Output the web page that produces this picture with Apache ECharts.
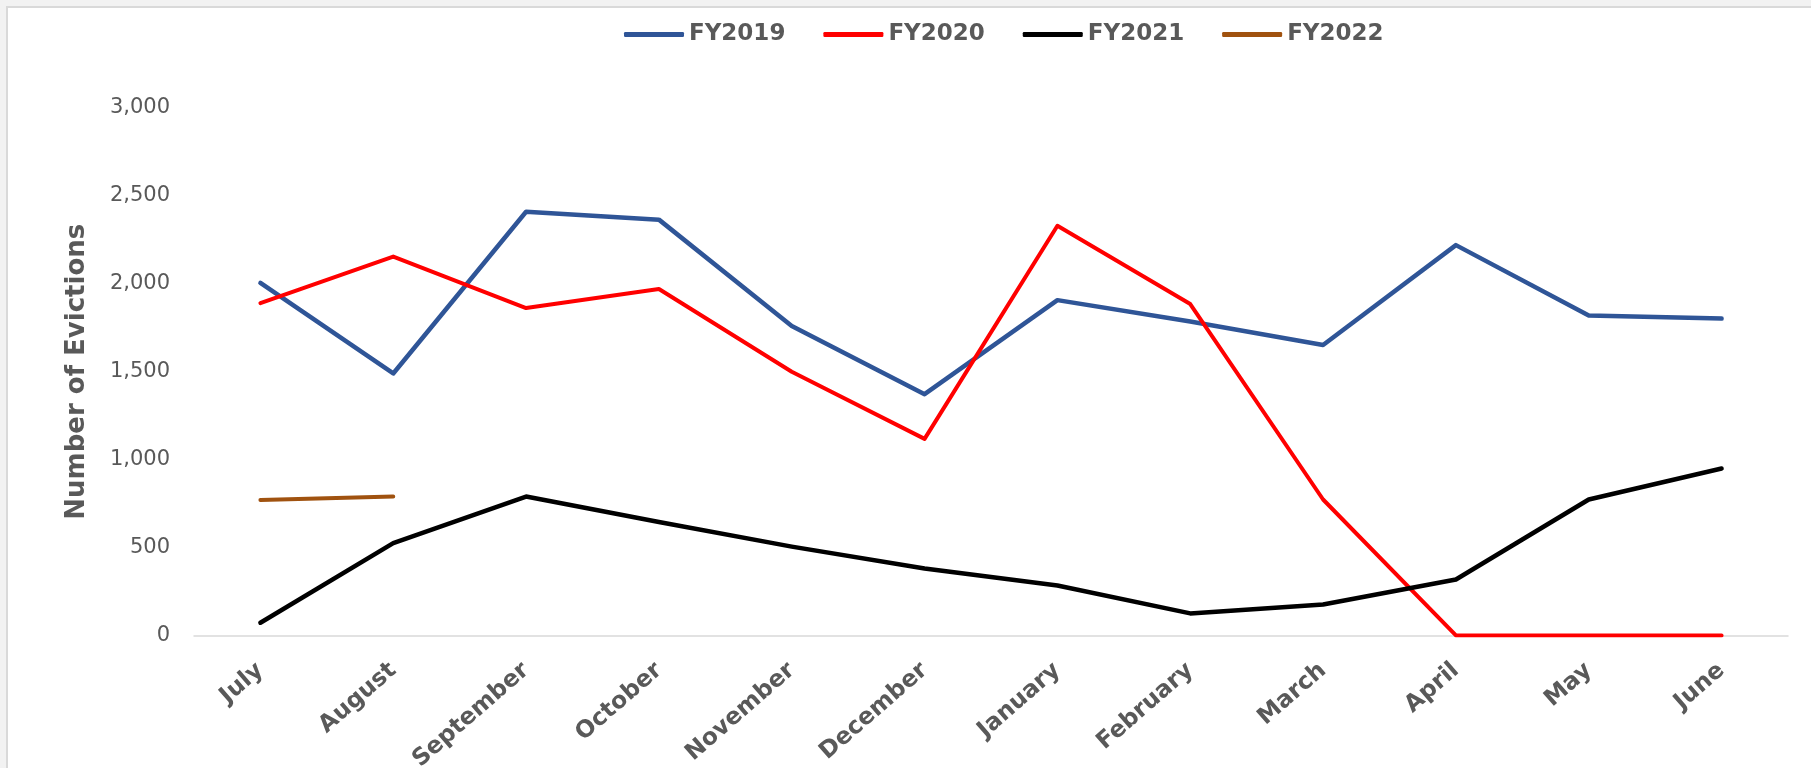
<!DOCTYPE html>
<html>
<head>
<meta charset="utf-8">
<title>Number of Evictions by Month</title>
<script src="https://cdn.jsdelivr.net/npm/echarts@6/dist/echarts.min.js"></script>
<style>
  html, body { margin: 0; padding: 0; width: 1811px; height: 768px; overflow: hidden; background: #f2f2f2; }
  #chart {
    position: absolute;
    left: 6px;
    top: 6px;
    width: 1810px;
    height: 770px;
    background: #fff;
    border: 2px solid #d9d9d9;
    box-sizing: border-box;
  }
</style>
</head>
<body>
<div id="chart"></div>
<script>
// Months of the fiscal year (July -> June)
const months = ['July', 'August', 'September', 'October', 'November', 'December',
  'January', 'February', 'March', 'April', 'May', 'June'];

// Evictions per month
const fy2019 = [2005, 1490, 2410, 2365, 1760, 1372, 1907, 1785, 1652, 2220, 1820, 1802];
const fy2020 = [1890, 2155, 1862, 1970, 1500, 1118, 2330, 1885, 773, 0, 0, 0];
const fy2021 = [72, 525, 790, 645, 505, 380, 284, 125, 176, 318, 773, 949];
const fy2022 = [770, 790];

const seriesNames = ['FY2019', 'FY2020', 'FY2021', 'FY2022'];
const seriesColors = ['#2f5597', '#ff0000', '#000000', '#a0520f'];

const myChart = echarts.init(document.getElementById('chart'));

function lineSeries(name, data, color, width) {
  return {
    name: name,
    type: 'line',
    data: data,
    symbol: 'none',
    color: color,
    lineStyle: { color: color, width: width, cap: 'round', join: 'round' },
    emphasis: { disabled: true }
  };
}

myChart.setOption({
  animation: false,
  legend: {
    data: seriesNames,
    left: 611,
    top: 10,
    icon: 'roundRect',
    itemWidth: 60,
    itemHeight: 5,
    itemGap: 38,
    textStyle: {
      fontFamily: 'DejaVu Sans',
      fontWeight: 'bold',
      fontSize: 23,
      color: '#595959'
    }
  },
  grid: {
    left: 186,
    top: 100,
    width: 1594,
    height: 529,
    containLabel: false
  },
  xAxis: {
    type: 'category',
    data: months,
    boundaryGap: true,
    axisLine: { lineStyle: { color: '#d9d9d9', width: 1.5 } },
    axisTick: { show: false },
    axisLabel: {
      interval: 0,
      rotate: 41,
      margin: 32,
      fontFamily: 'DejaVu Sans',
      fontWeight: 'bold',
      fontSize: 23.5,
      color: '#595959'
    }
  },
  yAxis: {
    type: 'value',
    min: 0,
    max: 3000,
    interval: 500,
    name: 'Number of Evictions',
    nameLocation: 'middle',
    nameGap: 104,
    nameTextStyle: {
      fontFamily: 'DejaVu Sans',
      fontWeight: 'bold',
      fontSize: 26,
      color: '#595959'
    },
    axisLine: { show: false },
    axisTick: { show: false },
    splitLine: { show: false },
    axisLabel: {
      margin: 24,
      fontFamily: 'DejaVu Sans',
      fontSize: 21,
      color: '#595959',
      formatter: v => v.toLocaleString('en-US')
    }
  },
  series: [
    lineSeries('FY2019', fy2019, seriesColors[0], 4.5),
    lineSeries('FY2020', fy2020, seriesColors[1], 4),
    lineSeries('FY2021', fy2021, seriesColors[2], 4.5),
    lineSeries('FY2022', fy2022, seriesColors[3], 4)
  ]
});
</script>
</body>
</html>
